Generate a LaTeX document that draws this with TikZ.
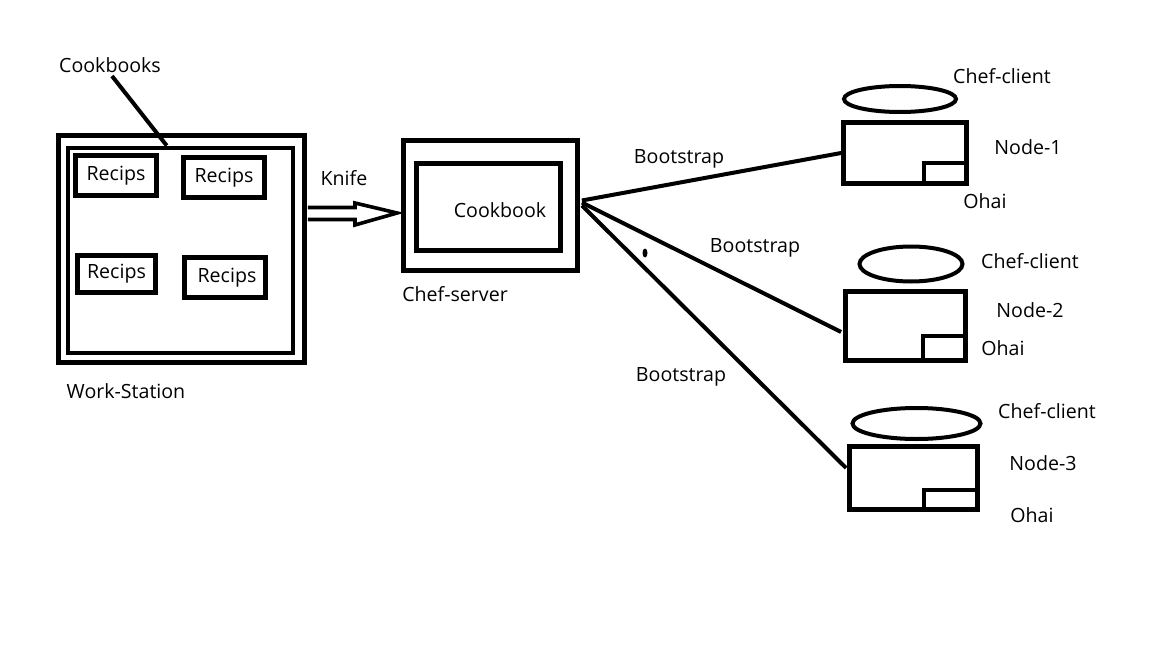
\documentclass[tikz,border=0pt]{standalone}
\usepackage{fontspec}
\setmainfont{Open Sans}
\usetikzlibrary{calc,shapes.geometric}

\begin{document}
\begin{tikzpicture}[x=0.5pt, y=-0.5pt,
                    box_node/.style={rectangle, draw=black, line width=2.4pt, inner sep=0pt},
                    small_node/.style={rectangle, draw=black, line width=2.2pt, inner sep=0pt, anchor=south east},
                    top_node/.style={ellipse, draw=black, line width=2pt, inner sep=0pt},
                    txt_node/.style={inner sep=0pt, font=\fontsize{9.8}{12}\selectfont},
                    link/.style={draw=black, line width=2pt}
                ]
                    \fill[white] (0,0) rectangle (1152,648);
                    \useasboundingbox (0,0) rectangle (1152,648);
                    % work-station
                    \node[box_node, minimum width=123pt, minimum height=113.5pt] (ws) at (181.5,249) {};
                    \node[box_node, minimum width=112.5pt, minimum height=102.5pt] (wsin) at (180.5,250.5) {};
                    \node[box_node, minimum width=40.5pt, minimum height=20pt, txt_node, line width=2.4pt, draw] (r1) at (116,175.5) {Recips\hspace{4pt}};
                    \node[box_node, minimum width=40.5pt, minimum height=20pt, txt_node, line width=2.4pt, draw] (r2) at (224,177.5) {Recips};
                    \node[box_node, minimum width=39pt, minimum height=18.5pt, txt_node, line width=2.4pt, draw] (r3) at (116.5,274) {Recips};
                    \node[box_node, minimum width=40.5pt, minimum height=20pt, txt_node, line width=2.4pt, draw] (r4) at (225,277.5) {\hspace{2pt}Recips};
                    \node[txt_node] (cbk) at (110,65) {Cookbooks};
                    \node[txt_node] (wst) at (126,391) {Work-Station};
                    \draw[link] (112,76) -- ($(wsin.north west)!0.44!(wsin.north east)$);
                    % chef-server
                    \node[box_node, minimum width=87pt, minimum height=65pt] (cs) at (490.5,205.5) {};
                    \node[box_node, minimum width=72pt, minimum height=43.5pt] (csin) at (488.5,207) {};
                    \node[txt_node] (cbt) at (500,210) {Cookbook};
                    \node[txt_node] (cst) at (455,294) {Chef-server};
                    % knife
                    \node[txt_node] (kn) at (344,178) {Knife};
                    \draw[line width=1.8pt, line join=miter]
                        ($(ws.east)+(1,-41.5)$) -- (355,207.5) -- (355,203) -- ($(cs.west)+(-4,7.5)$)
                        -- (355,225) -- (355,219.5) -- ($(ws.east)+(1,-29.5)$);
                    % nodes
                    \node[box_node, minimum width=61.5pt, minimum height=30.5pt] (n1) at (905,153) {};
                    \node[box_node, minimum width=60pt, minimum height=34.5pt] (n2) at (905.5,326) {};
                    \node[box_node, minimum width=64pt, minimum height=31.5pt] (n3) at (913.5,478) {};
                    \node[small_node, minimum width=21.5pt, minimum height=10.5pt] (o1) at (n1.south east) {};
                    \node[small_node, minimum width=21.5pt, minimum height=12.5pt] (o2) at (n2.south east) {};
                    \node[small_node, minimum width=27pt, minimum height=10pt] (o3) at (n3.south east) {};
                    \node[top_node, minimum width=56pt, minimum height=13pt] (c1) at (900,99) {};
                    \node[top_node, minimum width=51.5pt, minimum height=17.5pt] (c2) at (911,264) {};
                    \node[top_node, minimum width=64pt, minimum height=15.5pt] (c3) at (916.5,423.5) {};
                    \node[txt_node] (c1t) at (1002,76) {Chef-client};
                    \node[txt_node] (c2t) at (1030,261) {Chef-client};
                    \node[txt_node] (c3t) at (1047,411) {Chef-client};
                    \node[txt_node] (n1t) at (1028,147) {Node-1};
                    \node[txt_node] (n2t) at (1030,310) {Node-2};
                    \node[txt_node] (n3t) at (1043,463) {Node-3};
                    \node[txt_node] (o1t) at (985,201) {Ohai};
                    \node[txt_node] (o2t) at (1003,348) {Ohai};
                    \node[txt_node] (o3t) at (1032,515) {Ohai};
                    % bootstrap
                    \draw[link] ($(cs.east)+(2,-5)$) -- (n1.west);
                    \draw[link] ($(cs.east)+(2,-3)$) -- ($(n2.west)+(-2,6)$);
                    \draw[link] ($(cs.east)+(2,0)$) -- ($(n3.west)+(-1,-10)$);
                    \node[txt_node] (b1) at (679,159) {Bootstrap};
                    \node[txt_node] (b2) at (755,248) {Bootstrap};
                    \node[txt_node] (b3) at (681,377) {Bootstrap};
                    \fill (645,253) ellipse (2.5 and 4.5);
                \end{tikzpicture}
\end{document}
